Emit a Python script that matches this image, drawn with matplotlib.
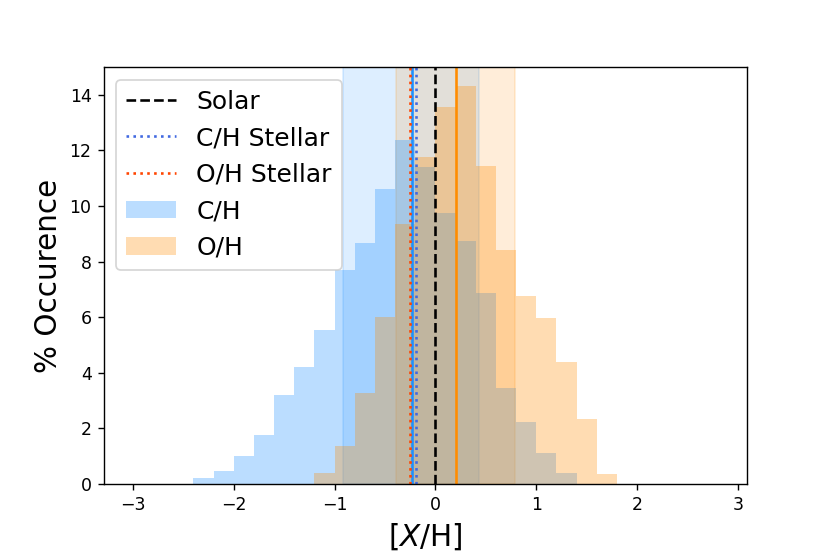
import numpy as np
import matplotlib
matplotlib.use("Agg")
import matplotlib.pyplot as plt

# Histogram bin edges (width 0.2)
bin_edges = np.round(np.arange(-3.0, 2.81, 0.2), 2)

# C/H histogram: bins starting at -2.4 ... 1.2 (percent occurrence)
ch_bin_start = -2.4
ch_values = [0.20, 0.47, 1.02, 1.76, 3.20, 4.20, 5.53, 7.70, 8.66, 10.60,
             12.37, 11.41, 9.74, 8.74, 6.86, 3.44, 2.24, 1.10, 0.38]

# O/H histogram: bins starting at -1.2 ... 1.6
oh_bin_start = -1.2
oh_values = [0.38, 1.37, 3.27, 6.02, 9.34, 11.77, 13.57, 14.30, 11.44,
             8.42, 6.77, 5.98, 4.39, 2.35, 0.35]

# Shaded ranges and reference lines
ch_range = (-0.92, 0.43)
oh_range = (-0.39, 0.79)
ch_median = -0.234
oh_median = 0.208
solar = 0.0
ch_stellar = -0.19
oh_stellar = -0.248

x_ticks = [-3, -2, -1, 0, 1, 2, 3]
y_ticks = [0, 2, 4, 6, 8, 10, 12, 14]


def full_counts(start, values):
    counts = np.zeros(len(bin_edges) - 1)
    i0 = int(round((start - bin_edges[0]) / 0.2))
    counts[i0:i0 + len(values)] = values
    return counts


centers = (bin_edges[:-1] + bin_edges[1:]) / 2
ch_counts = full_counts(ch_bin_start, ch_values)
oh_counts = full_counts(oh_bin_start, oh_values)

fig = plt.figure(figsize=(6.64, 4.432), dpi=125)
ax = fig.add_axes([0.125, 0.1264, 0.775, 0.7526])

ax.axvspan(ch_range[0], ch_range[1], color='dodgerblue', alpha=0.15)
ax.axvspan(oh_range[0], oh_range[1], color='darkorange', alpha=0.15)

_, _, p_ch = ax.hist(centers, bins=bin_edges, weights=ch_counts,
                     color='dodgerblue', alpha=0.3, label='C/H')
_, _, p_oh = ax.hist(centers, bins=bin_edges, weights=oh_counts,
                     color='darkorange', alpha=0.3, label='O/H')

ax.axvline(ch_median, color='dodgerblue', lw=1.5)
ax.axvline(oh_median, color='darkorange', lw=1.5)
l_sol = ax.axvline(solar, color='k', ls='--', lw=1.5, label='Solar')
l_ch = ax.axvline(ch_stellar, color='royalblue', ls=':', lw=1.5,
                  label='C/H Stellar')
l_oh = ax.axvline(oh_stellar, color='orangered', ls=':', lw=1.5,
                  label='O/H Stellar')

ax.set_xlim(-3.29, 3.09)
ax.set_ylim(0, 15)
ax.set_xticks(x_ticks)
ax.set_yticks(y_ticks)
ax.set_xlabel(r'$[X/{\rm H}]$', fontsize=17)
ax.set_ylabel('% Occurence', fontsize=17)
ax.legend([l_sol, l_ch, l_oh, p_ch[0], p_oh[0]],
          ['Solar', 'C/H Stellar', 'O/H Stellar', 'C/H', 'O/H'],
          loc='upper left', fontsize=14.4)

fig.savefig('out.png', dpi=125)
